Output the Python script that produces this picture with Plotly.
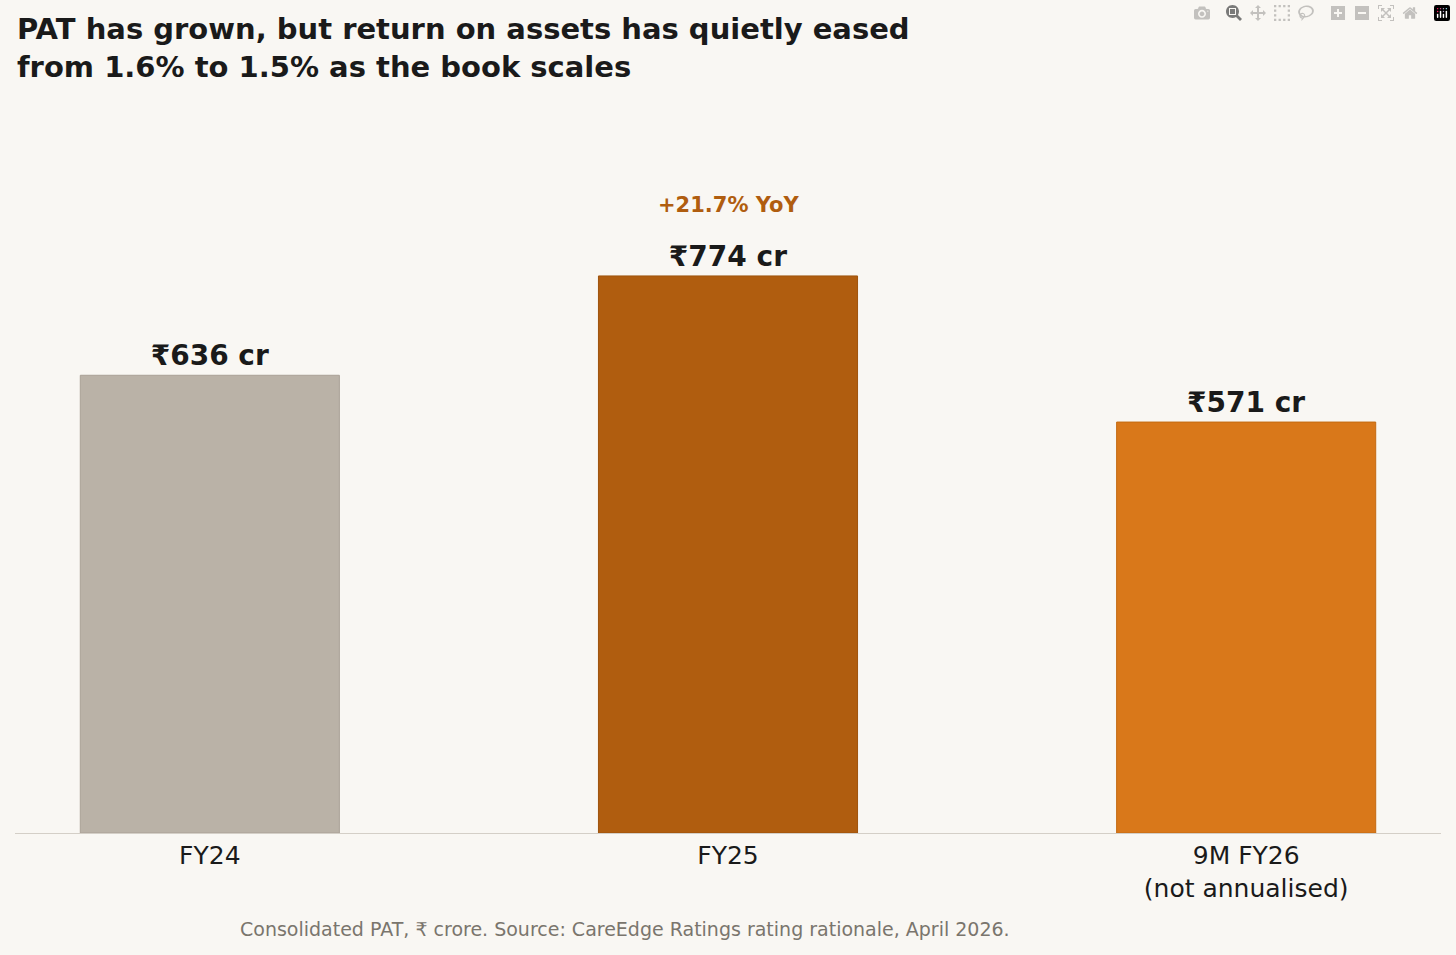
import plotly.graph_objects as go

categories = ["FY24", "FY25", "9M FY26<br>(not annualised)"]
pat = [636, 774, 571]
labels = ["₹636 cr", "₹774 cr", "₹571 cr"]
colors = ["#bab2a7", "#b05d0f", "#d9781a"]

fig = go.Figure(go.Bar(
    x=[0, 1, 2], y=pat, width=0.5,
    marker=dict(color=colors, line=dict(color=["#aaa196", "#9e530c", "#c46a12"], width=1)),
    text=labels, textposition="outside", cliponaxis=False,
    textfont=dict(family="DejaVu Sans", size=28, color="#1a1a1a", weight="bold"),
))
fig.add_annotation(x=1, y=774, yshift=57, text="+21.7% YoY", showarrow=False,
                   yanchor="bottom", font=dict(family="DejaVu Sans", size=21, color="#b05d0f", weight="bold"))
fig.add_annotation(xref="paper", yref="paper", x=0, xanchor="left", y=1.205, yanchor="top",
                   align="left", showarrow=False,
                   text="<b>PAT has grown, but return on assets has quietly eased<br>from 1.6% to 1.5% as the book scales</b>",
                   font=dict(family="DejaVu Sans", size=29, color="#1a1a1a"))
fig.update_layout(
    width=1456, height=955, paper_bgcolor="#f9f7f3", plot_bgcolor="#f9f7f3",
    margin=dict(l=15, r=15, t=150, b=122), showlegend=False,
    font=dict(family="DejaVu Sans", color="#1a1a1a"),
    xaxis=dict(range=[-0.376, 2.376], tickvals=[0, 1, 2], ticktext=categories,
               tickfont=dict(size=25, color="#1a1a1a"), showgrid=False, zeroline=False,
               showline=True, linecolor="#d4cfc7", linewidth=1, ticks=""),
    yaxis=dict(range=[0, 949], visible=False),
)
fig.add_annotation(xref="paper", yref="paper", x=0.428, y=-0.122, yanchor="top", showarrow=False,
                   text="Consolidated PAT, ₹ crore. Source: CareEdge Ratings rating rationale, April 2026.",
                   font=dict(size=19, color="#7a756d"))
fig.write_html("out.html", post_script="document.body.style.margin='0';document.body.style.background='#f9f7f3';")
